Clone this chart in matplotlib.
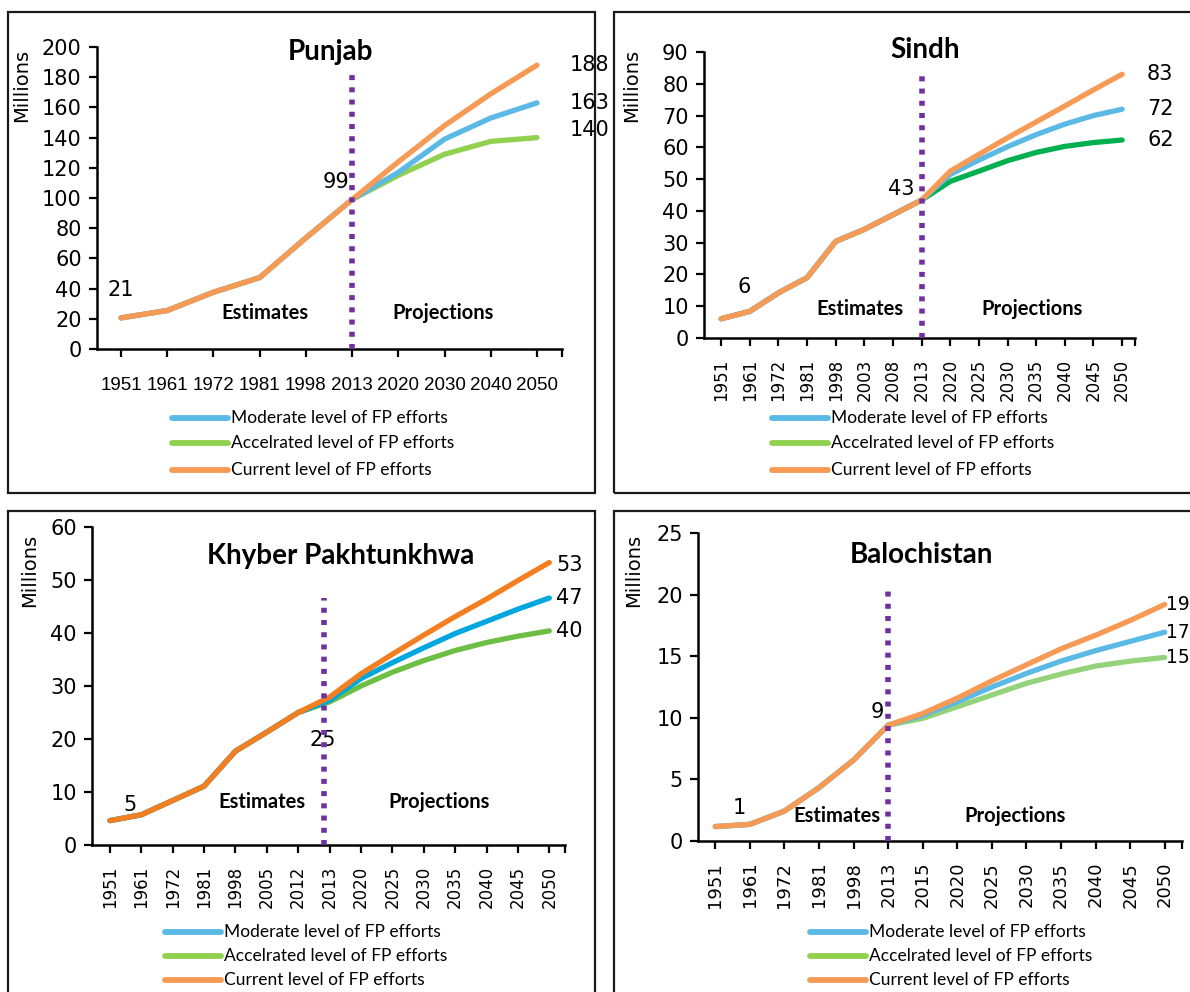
import matplotlib
matplotlib.use("Agg")
import matplotlib.pyplot as plt
from matplotlib.lines import Line2D
from matplotlib.patches import Rectangle

W, H = 1190, 992

# Punjab
pj_years = ['1951', '1961', '1972', '1981', '1998', '2013', '2020', '2030', '2040', '2050']
pj_moderate = [20.6, 25.5, 37.6, 47.3, 73.6, 99.0, 117, 139, 153, 163]
pj_accel = [20.6, 25.5, 37.6, 47.3, 73.6, 99.0, 115, 129, 137.5, 140]
pj_current = [20.6, 25.5, 37.6, 47.3, 73.6, 99.0, 124, 148, 169, 188]

# Sindh
sd_years = ['1951', '1961', '1972', '1981', '1998', '2003', '2008', '2013',
            '2020', '2025', '2030', '2035', '2040', '2045', '2050']
sd_moderate = [6.05, 8.4, 14.2, 19.0, 30.4, 34.2, 38.8, 43.4, 51.5, 56.0, 60.2, 64.0, 67.3, 70.0, 72.0]
sd_accel = [6.05, 8.4, 14.2, 19.0, 30.4, 34.2, 38.8, 43.4, 49.3, 52.5, 55.8, 58.4, 60.3, 61.5, 62.3]
sd_current = [6.05, 8.4, 14.2, 19.0, 30.4, 34.2, 38.8, 43.4, 52.5, 57.8, 63.0, 68.0, 73.0, 78.1, 83.0]

# Khyber Pakhtunkhwa
kp_years = ['1951', '1961', '1972', '1981', '1998', '2005', '2012', '2013',
            '2020', '2025', '2030', '2035', '2040', '2045', '2050']
kp_moderate = [4.6, 5.7, 8.4, 11.1, 17.7, 21.3, 25.0, 27.3, 31.4, 34.4, 37.2, 39.9, 42.2, 44.5, 46.6]
kp_accel = [4.6, 5.7, 8.4, 11.1, 17.7, 21.3, 25.0, 27.0, 30.0, 32.6, 34.8, 36.7, 38.2, 39.4, 40.4]
kp_current = [4.6, 5.7, 8.4, 11.1, 17.7, 21.3, 25.0, 27.9, 32.3, 36.0, 39.6, 43.1, 46.4, 49.9, 53.3]

# Balochistan
bl_years = ['1951', '1961', '1972', '1981', '1998', '2013', '2015',
            '2020', '2025', '2030', '2035', '2040', '2045', '2050']
bl_moderate = [1.17, 1.35, 2.43, 4.33, 6.57, 9.4, 10.2, 11.3, 12.5, 13.6, 14.6, 15.45, 16.2, 16.95]
bl_accel = [1.17, 1.35, 2.43, 4.33, 6.57, 9.4, 9.95, 10.9, 11.85, 12.8, 13.55, 14.2, 14.6, 14.9]
bl_current = [1.17, 1.35, 2.43, 4.33, 6.57, 9.4, 10.35, 11.6, 13.0, 14.3, 15.6, 16.7, 17.9, 19.2]

legend_labels = ['Moderate level of FP efforts', 'Accelrated level of FP efforts',
                 'Current level of FP efforts']
legend_colors = ['#5BB9E6', '#92D050', '#F79A55']

NUM = 'DejaVu Sans'
ARIAL = 'Liberation Sans'
TXT = 'Lato'
PURPLE = '#7030A0'
LW = 3.8
NUMSIZE = 15


def fx(x):
    return x / W


def fy(y):
    return 1 - y / H


def px2pt(v):
    return v * 0.72


fig = plt.figure(figsize=(W / 100, H / 100), dpi=100)


def style_axis(ax, years, ymax, ystep, xlim, xsize=None):
    ax.set_xlim(*xlim)
    ax.set_ylim(0, ymax)
    ax.set_yticks(range(0, ymax + 1, ystep))
    ax.set_xticks(range(len(years)))
    if xsize:
        # rotated year labels
        ax.set_xticklabels(years, rotation=90, family=NUM, fontsize=xsize)
        ax.tick_params(axis='x', pad=9)
    else:
        ax.set_xticklabels(years, family=ARIAL, fontsize=13.5)
        ax.tick_params(axis='x', pad=14)
    ax.set_xticks([xlim[1]], minor=True)
    for lab in ax.get_yticklabels():
        lab.set_family(NUM)
        lab.set_fontsize(NUMSIZE)
    ax.tick_params(axis='both', direction='out', length=6, width=1.6, color='black')
    ax.tick_params(axis='x', which='minor', length=6, width=1.6)
    ax.tick_params(axis='y', pad=5)
    for s in ['top', 'right']:
        ax.spines[s].set_visible(False)
    for s in ['left', 'bottom']:
        ax.spines[s].set_linewidth(1.8)
    ax.patch.set_alpha(0)


def label(ax, x, v, dx, dy, ha='center', size=NUMSIZE):
    ax.annotate(f"{v:.0f}", xy=(x, v), xytext=(px2pt(dx), px2pt(dy)),
                textcoords='offset points', ha=ha, va='center',
                family=NUM, fontsize=size, annotation_clip=False)


def extras(title, title_xy, est_xy, proj_xy, mill_xy, leg_x, leg_ys):
    fig.text(fx(title_xy[0]), fy(title_xy[1]), title, family=TXT, fontweight='bold',
             fontsize=20, ha='center', va='center')
    fig.text(fx(est_xy[0]), fy(est_xy[1]), 'Estimates', family=TXT, fontweight='bold',
             fontsize=14.5, ha='center', va='center')
    fig.text(fx(proj_xy[0]), fy(proj_xy[1]), 'Projections', family=TXT, fontweight='bold',
             fontsize=14.5, ha='center', va='center')
    fig.text(fx(mill_xy[0]), fy(mill_xy[1]), 'Millions', family=NUM, fontsize=14,
             rotation=90, ha='center', va='center')
    for lab, c, yy in zip(legend_labels, legend_colors, leg_ys):
        fig.add_artist(Line2D([fx(leg_x), fx(leg_x + 56)], [fy(yy), fy(yy)],
                              color=c, lw=4.2, solid_capstyle='round',
                              transform=fig.transFigure))
        fig.text(fx(leg_x + 59), fy(yy), lab, family=TXT, fontsize=12.5,
                 ha='left', va='center')


def vline(ax, x, top):
    ax.plot([x, x], [0, top], color=PURPLE, lw=4.0, linestyle=(0, (0.9, 1.3)),
            dash_capstyle='butt', zorder=5, clip_on=False)


# panel frames
for (a, b, c, d) in [(8, 12, 595, 493), (614, 12, 1200, 493),
                     (8, 511, 595, 1000), (614, 511, 1200, 1000)]:
    fig.add_artist(Rectangle((fx(a), fy(d)), (c - a) / W, (d - b) / H, fill=False,
                             edgecolor='#1a1a1a', lw=1.6, transform=fig.transFigure))

# Punjab
ax = fig.add_axes([fx(97), fy(349), (562 - 97) / W, (349 - 47) / H])
xs = range(len(pj_years))
for vals, c in [(pj_accel, '#92D050'), (pj_moderate, '#5BB9E6'), (pj_current, '#F79A55')]:
    ax.plot(xs, vals, color=c, lw=LW, solid_capstyle='round', solid_joinstyle='round')
vline(ax, 5, 182)
style_axis(ax, pj_years, 200, 20, (-0.52, 9.54))
label(ax, 0, pj_current[0], 0, 28)
label(ax, 5, pj_current[5], -3, 18, ha='right')
label(ax, 9, pj_current[-1], 33, 0, ha='left')
label(ax, 9, pj_moderate[-1], 33, 0, ha='left')
label(ax, 9, pj_accel[-1], 33, 8, ha='left')
extras('Punjab', (330, 52), (265, 313), (443, 313), (22, 85), 172, (418, 443, 470))

# Sindh
ax = fig.add_axes([fx(704), fy(338), (1135 - 704) / W, (338 - 52) / H])
xs = range(len(sd_years))
for vals, c in [(sd_accel, '#00B050'), (sd_moderate, '#5BB9E6'), (sd_current, '#F79A55')]:
    ax.plot(xs, vals, color=c, lw=LW, solid_capstyle='round', solid_joinstyle='round')
vline(ax, 7, 82.3)
style_axis(ax, sd_years, 90, 10, (-0.6, 14.45), xsize=12)
label(ax, 0, sd_current[0], 23, 32)
label(ax, 7, sd_current[7], -7, 11, ha='right')
label(ax, 14, sd_current[-1], 25, 0, ha='left')
label(ax, 14, sd_moderate[-1], 25, 0, ha='left')
label(ax, 14, sd_accel[-1], 25, 0, ha='left')
extras('Sindh', (925, 50), (860, 309), (1032, 309), (632, 85), 772, (418, 443, 470))

# Khyber Pakhtunkhwa
ax = fig.add_axes([fx(92), fy(845), (565 - 92) / W, (845 - 527) / H])
xs = range(len(kp_years))
for vals, c in [(kp_accel, '#6DBE45'), (kp_moderate, '#00A6DE'), (kp_current, '#F47E20')]:
    ax.plot(xs, vals, color=c, lw=LW, solid_capstyle='round', solid_joinstyle='round')
vline(ax, 6.83, 46.6)
style_axis(ax, kp_years, 60, 10, (-0.57, 14.5), xsize=12)
label(ax, 0, kp_current[0], 20, 16)
label(ax, 6, kp_current[6], 25, -28)
label(ax, 14, kp_current[-1], 7, -2, ha='left')
label(ax, 14, kp_moderate[-1], 7, 0, ha='left')
label(ax, 14, kp_accel[-1], 7, 0, ha='left')
extras('Khyber Pakhtunkhwa', (341, 556), (262, 802), (439, 802), (30, 570), 165, (932, 956, 980))

# Balochistan
ax = fig.add_axes([fx(698), fy(841), (1182 - 698) / W, (841 - 533) / H])
xs = range(len(bl_years))
for vals, c in [(bl_accel, '#95D37A'), (bl_moderate, '#5BB9E6'), (bl_current, '#F79A55')]:
    ax.plot(xs, vals, color=c, lw=LW, solid_capstyle='round', solid_joinstyle='round')
vline(ax, 5, 20.3)
style_axis(ax, bl_years, 25, 5, (-0.5, 13.5), xsize=13)
label(ax, 0, bl_current[0], 24, 19)
label(ax, 5, bl_current[5], -4, 13, ha='right')
label(ax, 13, bl_current[-1], 1, 0, ha='left', size=13.5)
label(ax, 13, bl_moderate[-1], 1, 0, ha='left', size=13.5)
label(ax, 13, bl_accel[-1], 1, 0, ha='left', size=13.5)
extras('Balochistan', (921, 555), (837, 816), (1015, 816), (634, 570), 810, (932, 956, 980))

fig.savefig('out.png', dpi=100, facecolor='white')
